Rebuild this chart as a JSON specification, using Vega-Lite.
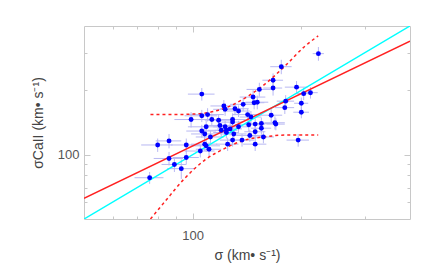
{
  "$schema": "https://vega.github.io/schema/vega-lite/v6.json",
  "width": 326,
  "height": 193,
  "autosize": {"type": "none"},
  "padding": {"left": 84, "top": 26, "right": 26, "bottom": 54},
  "background": "white",
  "config": {
    "view": {"stroke": "#c8c8c8", "strokeWidth": 1},
    "font": "Liberation Sans"
  },
  "datasets": {
    "pts": [
      {"x": 223, "y": 297, "ex": 8, "ey": 22},
      {"x": 176, "y": 258, "ex": 12, "ey": 20},
      {"x": 167, "y": 223, "ex": 11, "ey": 17},
      {"x": 167, "y": 205, "ex": 10, "ey": 16},
      {"x": 153, "y": 202, "ex": 12, "ey": 15},
      {"x": 194, "y": 207, "ex": 14, "ey": 14},
      {"x": 106, "y": 192, "ex": 9, "ey": 13},
      {"x": 212, "y": 195, "ex": 10, "ey": 12},
      {"x": 203, "y": 193, "ex": 11, "ey": 13},
      {"x": 147, "y": 186, "ex": 12, "ey": 14},
      {"x": 148, "y": 175, "ex": 10, "ey": 12},
      {"x": 151, "y": 176, "ex": 11, "ey": 13},
      {"x": 200, "y": 174, "ex": 9, "ey": 11},
      {"x": 181, "y": 178, "ex": 10, "ey": 12},
      {"x": 122, "y": 169, "ex": 10, "ey": 11},
      {"x": 138, "y": 172, "ex": 11, "ey": 12},
      {"x": 131, "y": 164, "ex": 12, "ey": 11},
      {"x": 123, "y": 163, "ex": 9, "ey": 11},
      {"x": 134, "y": 160, "ex": 10, "ey": 10},
      {"x": 180, "y": 166, "ex": 11, "ey": 11},
      {"x": 106, "y": 152, "ex": 11, "ey": 10},
      {"x": 110, "y": 154, "ex": 12, "ey": 11},
      {"x": 142, "y": 154, "ex": 13, "ey": 10},
      {"x": 145, "y": 150, "ex": 10, "ey": 10},
      {"x": 99, "y": 146, "ex": 10, "ey": 12},
      {"x": 113, "y": 146, "ex": 11, "ey": 10},
      {"x": 118, "y": 145, "ex": 10, "ey": 9},
      {"x": 129, "y": 146, "ex": 11, "ey": 10},
      {"x": 129, "y": 142, "ex": 9, "ey": 9},
      {"x": 165, "y": 153, "ex": 12, "ey": 11},
      {"x": 200, "y": 158, "ex": 10, "ey": 10},
      {"x": 109, "y": 135, "ex": 12, "ey": 9},
      {"x": 119, "y": 137, "ex": 10, "ey": 9},
      {"x": 123, "y": 135, "ex": 9, "ey": 9},
      {"x": 127, "y": 132, "ex": 10, "ey": 9},
      {"x": 124, "y": 130, "ex": 9, "ey": 8},
      {"x": 120, "y": 130, "ex": 10, "ey": 9},
      {"x": 134, "y": 135, "ex": 11, "ey": 9},
      {"x": 143, "y": 138, "ex": 12, "ey": 10},
      {"x": 149, "y": 139, "ex": 10, "ey": 9},
      {"x": 155, "y": 140, "ex": 11, "ey": 9},
      {"x": 155, "y": 133, "ex": 10, "ey": 9},
      {"x": 169, "y": 141, "ex": 11, "ey": 10},
      {"x": 170, "y": 139, "ex": 10, "ey": 9},
      {"x": 106, "y": 129, "ex": 10, "ey": 9},
      {"x": 108, "y": 125, "ex": 9, "ey": 8},
      {"x": 112, "y": 121, "ex": 10, "ey": 8},
      {"x": 124, "y": 127, "ex": 10, "ey": 8},
      {"x": 130, "y": 125, "ex": 11, "ey": 8},
      {"x": 144, "y": 123, "ex": 12, "ey": 8},
      {"x": 149, "y": 128, "ex": 10, "ey": 9},
      {"x": 157, "y": 121, "ex": 11, "ey": 8},
      {"x": 129, "y": 117, "ex": 10, "ey": 8},
      {"x": 137, "y": 117, "ex": 11, "ey": 8},
      {"x": 125, "y": 112, "ex": 9, "ey": 8},
      {"x": 149, "y": 112, "ex": 11, "ey": 8},
      {"x": 108, "y": 112, "ex": 9, "ey": 8},
      {"x": 109, "y": 110, "ex": 10, "ey": 7},
      {"x": 111, "y": 106, "ex": 9, "ey": 8},
      {"x": 105, "y": 104, "ex": 10, "ey": 7},
      {"x": 80, "y": 111, "ex": 8, "ey": 8},
      {"x": 86, "y": 116, "ex": 7, "ey": 9},
      {"x": 96, "y": 111, "ex": 9, "ey": 8},
      {"x": 196, "y": 117, "ex": 14, "ey": 8},
      {"x": 96, "y": 97, "ex": 8, "ey": 7},
      {"x": 86, "y": 96, "ex": 8, "ey": 7},
      {"x": 89, "y": 90, "ex": 7, "ey": 7},
      {"x": 93, "y": 86, "ex": 8, "ey": 9},
      {"x": 76, "y": 78, "ex": 7, "ey": 5}
    ],
    "fit": [{"x": 50, "y": 62.5}, {"x": 400, "y": 340}],
    "oneone": [{"x": 50, "y": 50}, {"x": 400, "y": 400}],
    "upper": [
      {"x": 76.4, "y": 154.3}, {"x": 92.1, "y": 154.3}, {"x": 104.7, "y": 155.6},
      {"x": 115.2, "y": 159.8}, {"x": 126.8, "y": 168.7}, {"x": 139.5, "y": 183.8},
      {"x": 158.5, "y": 213.7}, {"x": 180, "y": 259.4}, {"x": 204.6, "y": 321.7},
      {"x": 222.7, "y": 359.4}
    ],
    "lower": [
      {"x": 76.4, "y": 50}, {"x": 83.7, "y": 60.2}, {"x": 95.1, "y": 77.5},
      {"x": 108, "y": 94.3}, {"x": 122.8, "y": 107}, {"x": 139.5, "y": 117},
      {"x": 158.5, "y": 121.2}, {"x": 180, "y": 123.5}, {"x": 222.7, "y": 123.5}
    ]
  },
  "resolve": {"axis": {"x": "independent", "y": "independent"}},
  "layer": [
    {
      "data": {"name": "pts"},
      "mark": {"type": "errorbar", "color": "#b8b8f2", "thickness": 1, "clip": true},
      "encoding": {
        "x": {"field": "x", "type": "quantitative", "scale": {"type": "log", "domain": [50, 400], "nice": false}, "axis": null},
        "xError": {"field": "ex"},
        "y": {"field": "y", "type": "quantitative", "scale": {"type": "log", "domain": [50, 400], "nice": false}, "axis": null}
      }
    },
    {
      "data": {"name": "pts"},
      "mark": {"type": "errorbar", "color": "#b8b8f2", "thickness": 1, "clip": true},
      "encoding": {
        "y": {"field": "y", "type": "quantitative", "scale": {"type": "log", "domain": [50, 400], "nice": false}, "axis": null},
        "yError": {"field": "ey"},
        "x": {"field": "x", "type": "quantitative", "scale": {"type": "log", "domain": [50, 400], "nice": false}, "axis": null}
      }
    },
    {
      "data": {"name": "oneone"},
      "mark": {"type": "line", "color": "#00ffff", "strokeWidth": 1.5, "clip": true},
      "encoding": {
        "x": {"field": "x", "type": "quantitative", "scale": {"type": "log", "domain": [50, 400], "nice": false},
          "axis": {"orient": "top", "values": [60, 70, 80, 90, 100, 200, 300], "labels": false, "domain": false, "grid": false, "title": null,
            "tickColor": "#c8c8c8", "tickSize": {"condition": {"test": "datum.value == 100", "value": -6}, "value": -3}}},
        "y": {"field": "y", "type": "quantitative", "scale": {"type": "log", "domain": [50, 400], "nice": false},
          "axis": {"orient": "right", "values": [60, 70, 80, 90, 100, 200, 300], "labels": false, "domain": false, "grid": false, "title": null,
            "tickColor": "#c8c8c8", "tickSize": {"condition": {"test": "datum.value == 100", "value": -6}, "value": -3}}}
      }
    },
    {
      "data": {"name": "fit"},
      "mark": {"type": "line", "color": "#ff2020", "strokeWidth": 1.5, "clip": true},
      "encoding": {
        "x": {"field": "x", "type": "quantitative", "scale": {"type": "log", "domain": [50, 400], "nice": false}, "axis": null},
        "y": {"field": "y", "type": "quantitative", "scale": {"type": "log", "domain": [50, 400], "nice": false}, "axis": null}
      }
    },
    {
      "data": {"name": "upper"},
      "mark": {"type": "line", "color": "#ff2020", "strokeWidth": 1.5, "strokeDash": [3, 3], "interpolate": "monotone", "clip": true},
      "encoding": {
        "x": {"field": "x", "type": "quantitative", "scale": {"type": "log", "domain": [50, 400], "nice": false}, "axis": null},
        "y": {"field": "y", "type": "quantitative", "scale": {"type": "log", "domain": [50, 400], "nice": false}, "axis": null}
      }
    },
    {
      "data": {"name": "lower"},
      "mark": {"type": "line", "color": "#ff2020", "strokeWidth": 1.5, "strokeDash": [3, 3], "interpolate": "monotone", "clip": true},
      "encoding": {
        "x": {"field": "x", "type": "quantitative", "scale": {"type": "log", "domain": [50, 400], "nice": false}, "axis": null},
        "y": {"field": "y", "type": "quantitative", "scale": {"type": "log", "domain": [50, 400], "nice": false}, "axis": null}
      }
    },
    {
      "data": {"name": "pts"},
      "mark": {"type": "circle", "color": "#0000ff", "opacity": 1, "size": 24, "clip": true},
      "encoding": {
        "x": {"field": "x", "type": "quantitative", "scale": {"type": "log", "domain": [50, 400], "nice": false},
          "axis": {"orient": "bottom", "values": [60, 70, 80, 90, 100, 200, 300], "labelExpr": "datum.value == 100 ? '100' : ''",
            "domain": false, "grid": false, "tickColor": "#c8c8c8",
            "tickSize": {"condition": {"test": "datum.value == 100", "value": -6}, "value": -3},
            "labelFontSize": 13, "labelColor": "#555555", "labelPadding": 16, "labelFont": "Liberation Sans",
            "title": "σ  (km•  s⁻¹)", "titleFontSize": 14, "titleFontWeight": "normal", "titleColor": "#444444", "titlePadding": 6, "titleFont": "Liberation Sans"}},
        "y": {"field": "y", "type": "quantitative", "scale": {"type": "log", "domain": [50, 400], "nice": false},
          "axis": {"orient": "left", "values": [60, 70, 80, 90, 100, 200, 300], "labelExpr": "datum.value == 100 ? '100' : ''",
            "domain": false, "grid": false, "tickColor": "#c8c8c8",
            "tickSize": {"condition": {"test": "datum.value == 100", "value": -6}, "value": -3},
            "labelFontSize": 13, "labelColor": "#555555", "labelPadding": 11, "labelFont": "Liberation Sans",
            "title": "σCaII  (km•  s⁻¹)", "titleFontSize": 14, "titleFontWeight": "normal", "titleColor": "#444444", "titlePadding": 12, "titleFont": "Liberation Sans"}}
      }
    }
  ]
}
